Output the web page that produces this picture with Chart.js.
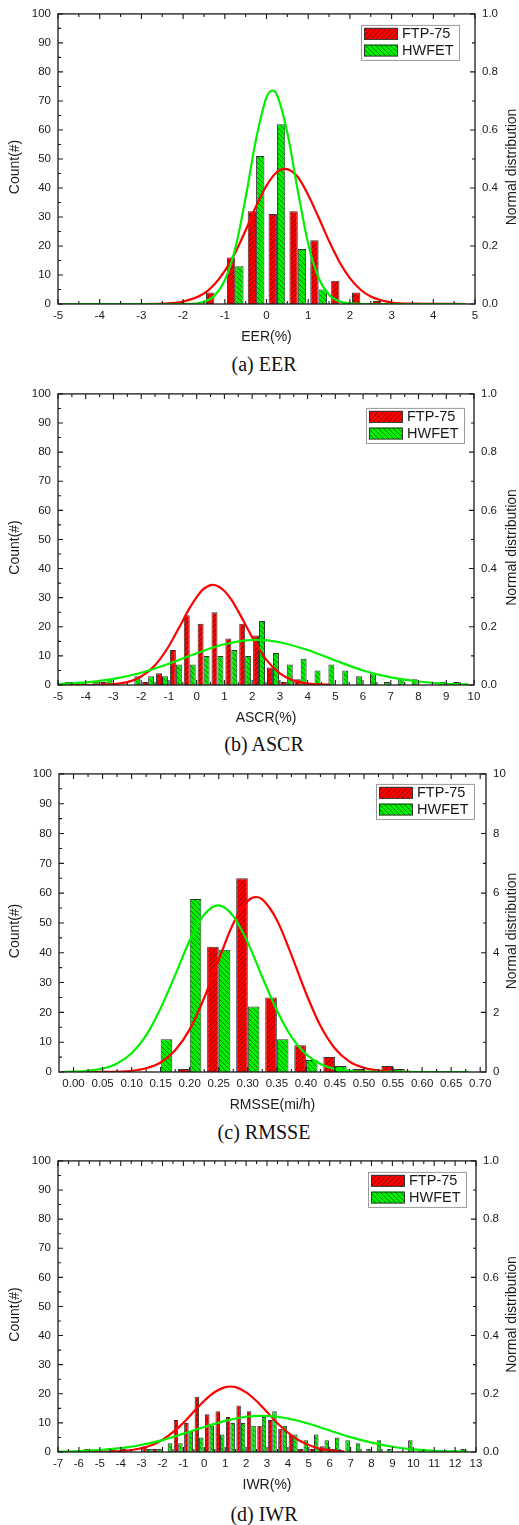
<!DOCTYPE html>
<html>
<head>
<meta charset="utf-8">
<script src="https://cdn.jsdelivr.net/npm/chart.js@4.4.1/dist/chart.umd.min.js"></script>
<style>
  body { margin: 0; background: #fff; }
  #page { position: relative; width: 519px; height: 1525px; background: #fff; overflow: hidden; }
  #page canvas { position: absolute; left: 0; }
  .caption { position: absolute; left: 0; width: 528px; text-align: center; line-height: 24px;
             font: 20px 'Liberation Serif', 'Times New Roman', serif; color: #111; }
</style>
</head>
<body>
<div id="page">
  <canvas id="eerChart" width="519" height="350" style="top:0"></canvas>
  <div class="caption" style="top:353px">(a) EER</div>
  <canvas id="ascrChart" width="519" height="350" style="top:380px"></canvas>
  <div class="caption" style="top:733px">(b) ASCR</div>
  <canvas id="rmsseChart" width="519" height="355" style="top:760px"></canvas>
  <div class="caption" style="top:1121px">(c) RMSSE</div>
  <canvas id="iwrChart" width="519" height="350" style="top:1147px"></canvas>
  <div class="caption" style="top:1503px">(d) IWR</div>
</div>
<script>
// ---- (a) EER, 0.5 % bins ----
const eerBins = [-1.25, -0.75, -0.25, 0.25, 0.75, 1.25, 1.75, 2.25, 2.75];
const eerFtp = [4, 16, 32, 31, 32, 22, 8, 4, 1];
const eerHwfet = [0, 13, 51, 62, 19, 5, 0, 0, 0];
const eerTicks = [-5, -4, -3, -2, -1, 0, 1, 2, 3, 4, 5];
const eerFtpFitX = [-5, -3, -2.5, -2, -1.5, -1.25, -1, -0.75, -0.5, -0.25, 0, 0.25, 0.45, 0.75, 1, 1.25, 1.5, 1.75, 2, 2.25, 2.5, 3, 3.5, 4.8];
const eerFtpFitY = [0, 0, 0.001, 0.008, 0.036, 0.067, 0.114, 0.177, 0.254, 0.337, 0.408, 0.455, 0.466, 0.438, 0.376, 0.298, 0.217, 0.145, 0.089, 0.05, 0.026, 0.005, 0.001, 0];
const eerHwFitX = [-5, -2, -1.5, -1.25, -1, -0.75, -0.5, -0.25, 0, 0.14, 0.25, 0.5, 0.75, 1, 1.25, 1.5, 1.75, 2, 2.5, 4.8];
const eerHwFitY = [0, 0, 0.008, 0.028, 0.082, 0.19, 0.367, 0.568, 0.712, 0.736, 0.721, 0.59, 0.391, 0.208, 0.09, 0.032, 0.009, 0.002, 0, 0];

// ---- (b) ASCR ----
const ascrBins = [-4.75, -4.25, -3.75, -3.25, -2.75, -2.25, -1.75, -1.25, -0.75, -0.25, 0.25, 0.75, 1.25, 1.75, 2.25,
                  2.75, 3.25, 3.75, 4.25, 4.75, 5.25, 5.75, 6.25, 6.75, 7.25, 7.75, 8.25, 8.75, 9.25, 9.75];
const ascrFtp = [0, 0, 0, 1, 0, 0, 1, 4, 12, 24, 21, 25, 16, 21, 17, 6, 1, 2, 0, 0, 0, 0, 0, 0, 0, 0, 0, 0, 0, 0];
const ascrHwfet = [1, 1, 1, 2, 0, 3, 3, 3, 7, 7, 10, 10, 12, 10, 22, 11, 7, 9, 5, 7, 5, 3, 4, 1, 2, 2, 0, 1, 1, 0];
const ascrTicks = [-5, -4, -3, -2, -1, 0, 1, 2, 3, 4, 5, 6, 7, 8, 9, 10];
const ascrFtpFitX = [-5, -4, -3, -2.5, -2, -1.5, -1, -0.75, -0.5, -0.25, 0, 0.25, 0.59, 1, 1.25, 1.5, 1.75, 2, 2.25, 2.5, 3, 3.5, 4, 4.8];
const ascrFtpFitY = [0, 0, 0.003, 0.01, 0.029, 0.068, 0.134, 0.177, 0.221, 0.265, 0.302, 0.33, 0.344, 0.323, 0.293, 0.253, 0.209, 0.164, 0.124, 0.088, 0.04, 0.015, 0.005, 0.001];
const ascrHwFitX = [-5, -4, -3, -2, -1, 0, 1, 2.15, 3, 4, 5, 6, 7, 8, 9, 9.8];
const ascrHwFitY = [0.003, 0.009, 0.021, 0.042, 0.073, 0.109, 0.14, 0.155, 0.147, 0.12, 0.084, 0.05, 0.026, 0.012, 0.004, 0.002];

// ---- (c) RMSSE, 0.05 mi/h bins ----
const rmsseBins = [0.15, 0.20, 0.25, 0.30, 0.35, 0.40, 0.45, 0.50, 0.55];
const rmsseFtp = [0, 1, 42, 65, 25, 9, 5, 1, 2];
const rmsseHwfet = [11, 58, 41, 22, 11, 4, 2, 0, 1];
const rmsseTicks = [0, 0.05, 0.10, 0.15, 0.20, 0.25, 0.30, 0.35, 0.40, 0.45, 0.50, 0.55, 0.60, 0.65, 0.70];
const rmsseFtpFitX = [0.02, 0.05, 0.1, 0.125, 0.15, 0.175, 0.2, 0.225, 0.25, 0.275, 0.3, 0.314, 0.325, 0.35, 0.375, 0.4, 0.425, 0.45, 0.475, 0.5, 0.55, 0.58];
const rmsseFtpFitY = [0, 0.003, 0.041, 0.124, 0.32, 0.73, 1.43, 2.49, 3.77, 4.98, 5.74, 5.87, 5.79, 5.1, 3.93, 2.65, 1.55, 0.79, 0.35, 0.138, 0.014, 0.002];
const rmsseHwFitX = [-0.02, 0, 0.025, 0.05, 0.075, 0.1, 0.125, 0.15, 0.175, 0.2, 0.225, 0.249, 0.275, 0.3, 0.325, 0.35, 0.375, 0.4, 0.425, 0.45, 0.5, 0.55, 0.68];
const rmsseHwFitY = [0.005, 0.013, 0.041, 0.114, 0.287, 0.63, 1.23, 2.14, 3.25, 4.41, 5.28, 5.59, 5.23, 4.34, 3.18, 2.07, 1.18, 0.6, 0.27, 0.105, 0.011, 0.001, 0];

// ---- (d) IWR ----
const iwrBins = [-5.75, -5.25, -4.75, -4.25, -3.75, -3.25, -2.75, -2.25, -1.75, -1.25, -0.75, -0.25, 0.25, 0.75, 1.25, 1.75, 2.25, 2.75, 3.25,
                 3.75, 4.25, 4.75, 5.25, 5.75, 6.25, 6.75, 7.25, 7.75, 8.25, 8.75, 9.25, 9.75, 10.25, 10.75, 11.25, 11.75, 12.25];
const iwrFtp = [0, 0, 0, 1, 1, 0, 2, 1, 0, 11, 10, 19, 13, 14, 12, 16, 14, 9, 11, 8, 6, 1, 1, 2, 1, 0, 0, 0, 0, 0, 0, 0, 0, 0, 0, 0, 0];
const iwrHwfet = [1, 0, 0, 0, 0, 0, 1, 1, 3, 3, 7, 5, 9, 6, 10, 10, 9, 12, 14, 9, 6, 4, 6, 4, 5, 4, 3, 1, 4, 1, 0, 4, 1, 0, 0, 0, 1];
const iwrTicks = [-7, -6, -5, -4, -3, -2, -1, 0, 1, 2, 3, 4, 5, 6, 7, 8, 9, 10, 11, 12, 13];
const iwrFtpFitX = [-5.5, -5, -4, -3, -2.5, -2, -1.5, -1, -0.5, 0, 0.5, 1, 1.24, 1.5, 2, 2.5, 3, 3.5, 4, 4.5, 5, 5.5, 6, 6.7];
const iwrFtpFitY = [0.001, 0.001, 0.003, 0.013, 0.024, 0.042, 0.068, 0.1, 0.139, 0.176, 0.206, 0.223, 0.225, 0.223, 0.205, 0.175, 0.137, 0.099, 0.067, 0.041, 0.024, 0.012, 0.006, 0.002];
const iwrHwFitX = [-7, -6, -5, -4, -3, -2, -1, 0, 1, 2, 2.75, 3.5, 4, 5, 6, 7, 8, 9, 10, 11, 12, 12.6];
const iwrHwFitY = [0.001, 0.003, 0.007, 0.013, 0.025, 0.041, 0.063, 0.086, 0.107, 0.121, 0.124, 0.121, 0.115, 0.097, 0.074, 0.051, 0.032, 0.018, 0.009, 0.004, 0.002, 0.001];

const SANS = "'Liberation Sans', Arial, sans-serif";
const RED = '#ff0000';
const GREEN = '#00f000';
const INK = '#1a1a1a';

function pairs(xs, ys) {
  return xs.map((x, i) => ({ x: x, y: ys[i] }));
}

// diagonal hatch tile filled with the series colour
function hatch(color, rising) {
  const t = 5;
  const c = document.createElement('canvas');
  c.width = c.height = t;
  const g = c.getContext('2d');
  g.fillStyle = color;
  g.fillRect(0, 0, t, t);
  g.strokeStyle = 'rgba(0,0,0,0.5)';
  g.lineWidth = 0.9;
  g.beginPath();
  if (rising) {
    g.moveTo(-1, t + 1); g.lineTo(t + 1, -1);
    g.moveTo(-1, 1); g.lineTo(1, -1);
    g.moveTo(t - 1, t + 1); g.lineTo(t + 1, t - 1);
  } else {
    g.moveTo(-1, -1); g.lineTo(t + 1, t + 1);
    g.moveTo(t - 1, -1); g.lineTo(t + 1, 1);
    g.moveTo(-1, t - 1); g.lineTo(1, t + 1);
  }
  g.stroke();
  return g.createPattern(c, 'repeat');
}

// box frame with inward ticks, axis titles and the legend box
const panelDecor = {
  id: 'panelDecor',
  afterDraw(chart, args, o) {
    const { ctx, chartArea: a, scales } = chart;
    ctx.save();

    ctx.strokeStyle = INK;
    ctx.lineWidth = 1.3;
    ctx.strokeRect(a.left, a.top, a.right - a.left, a.bottom - a.top);

    const marks = (scale, draw) => {
      const v = scale.ticks.map(t => t.value);
      v.forEach((val, i) => {
        draw(scale.getPixelForValue(val), 5);
        if (i < v.length - 1) draw(scale.getPixelForValue((val + v[i + 1]) / 2), 3);
      });
    };
    ctx.lineWidth = 1.1;
    ctx.beginPath();
    marks(scales.x, (px, len) => {
      ctx.moveTo(px, a.bottom); ctx.lineTo(px, a.bottom - len);
      ctx.moveTo(px, a.top); ctx.lineTo(px, a.top + len);
    });
    marks(scales.y, (py, len) => { ctx.moveTo(a.left, py); ctx.lineTo(a.left + len, py); });
    marks(scales.y2, (py, len) => { ctx.moveTo(a.right, py); ctx.lineTo(a.right - len, py); });
    ctx.stroke();

    // axis titles
    ctx.fillStyle = INK;
    ctx.font = '14px ' + SANS;
    ctx.textAlign = 'center';
    ctx.textBaseline = 'middle';
    ctx.fillText(o.xTitle, (a.left + a.right) / 2, a.bottom + 33);
    const midY = (a.top + a.bottom) / 2 + 8;
    [[15, o.yTitle], [512, o.y2Title]].forEach(([x, text]) => {
      ctx.save();
      ctx.translate(x, midY);
      ctx.rotate(-Math.PI / 2);
      ctx.fillText(text, 0, 0);
      ctx.restore();
    });

    // legend
    const bars = chart.data.datasets.filter(d => d.type !== 'line');
    const bw = 98, bh = 35;
    const bx = a.right - o.legendRight - bw, by = a.top + o.legendTop;
    ctx.fillStyle = '#fff';
    ctx.fillRect(bx, by, bw, bh);
    ctx.strokeStyle = '#9a9a9a';
    ctx.lineWidth = 1;
    ctx.strokeRect(bx + 0.5, by + 0.5, bw, bh);
    ctx.font = '14.5px ' + SANS;
    ctx.textAlign = 'left';
    bars.forEach((d, i) => {
      const ry = by + 3 + i * 16.7;
      ctx.fillStyle = d.backgroundColor;
      ctx.fillRect(bx + 3, ry, 33, 11.5);
      ctx.strokeStyle = '#333';
      ctx.strokeRect(bx + 3.5, ry + 0.5, 33, 11);
      ctx.fillStyle = INK;
      ctx.fillText(d.label, bx + 41, ry + 6.5);
    });
    ctx.restore();
  }
};

function buildPanel(id, p) {
  const canvas = document.getElementById(id);
  const W = canvas.width, H = canvas.height;
  const tickFont = { family: SANS, size: 11.5 };
  return new Chart(canvas, {
    type: 'bar',
    data: {
      datasets: [
        { label: 'FTP-75', data: pairs(p.bins, p.ftp), backgroundColor: hatch(RED, true),
          borderColor: '#333', borderWidth: 1, yAxisID: 'y', order: 2,
          categoryPercentage: p.groupWidth, barPercentage: 1 },
        { label: 'HWFET', data: pairs(p.bins, p.hwfet), backgroundColor: hatch(GREEN, false),
          borderColor: '#333', borderWidth: 1, yAxisID: 'y', order: 2,
          categoryPercentage: p.groupWidth, barPercentage: 1 },
        { type: 'line', label: 'FTP-75 normal', data: pairs(p.ftpFitX, p.ftpFitY), yAxisID: 'y2',
          borderColor: RED, borderWidth: 2.2, pointRadius: 0, cubicInterpolationMode: 'monotone', order: 1 },
        { type: 'line', label: 'HWFET normal', data: pairs(p.hwFitX, p.hwFitY), yAxisID: 'y2',
          borderColor: GREEN, borderWidth: 2.2, pointRadius: 0, cubicInterpolationMode: 'monotone', order: 0 }
      ]
    },
    options: {
      responsive: false,
      animation: false,
      events: [],
      layout: { padding: { top: p.top, left: 0, right: 0, bottom: 0 } },
      plugins: {
        legend: { display: false },
        tooltip: { enabled: false },
        panelDecor: { xTitle: p.xTitle, yTitle: 'Count(#)', y2Title: 'Normal distribution',
                      legendRight: p.legendRight, legendTop: p.legendTop }
      },
      scales: {
        x: {
          type: 'linear', min: p.xMin, max: p.xMax, offset: false,
          afterBuildTicks: s => { s.ticks = p.xTicks.map(v => ({ value: v })); },
          afterFit: s => { s.height = H - p.bottom; },
          grid: { display: false, drawTicks: false },
          border: { display: false },
          ticks: { font: tickFont, color: INK, padding: 5, maxRotation: 0, autoSkip: false,
                    callback: v => v.toFixed(p.xDigits) }
        },
        y: {
          position: 'left', min: 0, max: 100,
          afterFit: s => { s.width = p.left; },
          grid: { display: false, drawTicks: false },
          border: { display: false },
          ticks: { stepSize: 10, font: tickFont, color: INK, padding: 7 }
        },
        y2: {
          position: 'right', min: 0, max: p.y2Max,
          afterFit: s => { s.width = W - p.right; },
          grid: { display: false, drawTicks: false },
          border: { display: false },
          ticks: { stepSize: p.y2Max / 5, font: tickFont, color: INK, padding: 7,
                   callback: v => v.toFixed(p.y2Digits) }
        }
      }
    },
    plugins: [panelDecor]
  });
}

buildPanel('eerChart', {
  bins: eerBins, ftp: eerFtp, hwfet: eerHwfet, xTicks: eerTicks,
  ftpFitX: eerFtpFitX, ftpFitY: eerFtpFitY, hwFitX: eerHwFitX, hwFitY: eerHwFitY,
  xMin: -5, xMax: 5, xDigits: 0, y2Max: 1, y2Digits: 1, xTitle: 'EER(%)',
  top: 12, bottom: 304, left: 58, right: 475, groupWidth: 0.8, legendRight: 16, legendTop: 11
});

buildPanel('ascrChart', {
  bins: ascrBins, ftp: ascrFtp, hwfet: ascrHwfet, xTicks: ascrTicks,
  ftpFitX: ascrFtpFitX, ftpFitY: ascrFtpFitY, hwFitX: ascrHwFitX, hwFitY: ascrHwFitY,
  xMin: -5, xMax: 10, xDigits: 0, y2Max: 1, y2Digits: 1, xTitle: 'ASCR(%)',
  top: 13, bottom: 305, left: 58, right: 474, groupWidth: 0.86, legendRight: 10, legendTop: 14
});

buildPanel('rmsseChart', {
  bins: rmsseBins, ftp: rmsseFtp, hwfet: rmsseHwfet, xTicks: rmsseTicks,
  ftpFitX: rmsseFtpFitX, ftpFitY: rmsseFtpFitY, hwFitX: rmsseHwFitX, hwFitY: rmsseHwFitY,
  xMin: -0.025, xMax: 0.71, xDigits: 2, y2Max: 10, y2Digits: 0, xTitle: 'RMSSE(mi/h)',
  top: 13, bottom: 312, left: 59, right: 486, groupWidth: 0.8, legendRight: 12, legendTop: 10
});

buildPanel('iwrChart', {
  bins: iwrBins, ftp: iwrFtp, hwfet: iwrHwfet, xTicks: iwrTicks,
  ftpFitX: iwrFtpFitX, ftpFitY: iwrFtpFitY, hwFitX: iwrHwFitX, hwFitY: iwrHwFitY,
  xMin: -7, xMax: 13, xDigits: 0, y2Max: 1, y2Digits: 1, xTitle: 'IWR(%)',
  top: 13, bottom: 305, left: 58, right: 476, groupWidth: 0.86, legendRight: 10, legendTop: 11
});
</script>
</body>
</html>
